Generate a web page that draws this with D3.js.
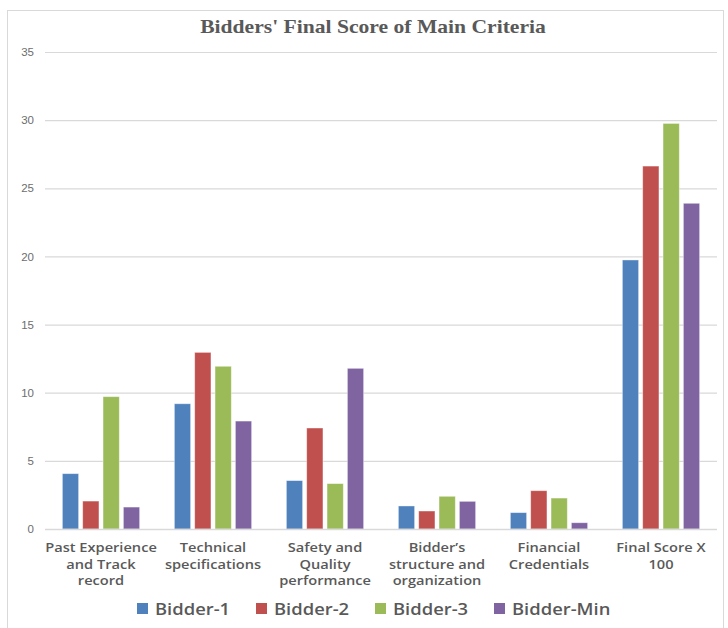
<!DOCTYPE html>
<html>
<head>
<meta charset="utf-8">
<script src="https://cdn.jsdelivr.net/npm/d3@7"></script>
<style>
  html, body { margin: 0; padding: 0; background: #fff; }
  svg { display: block; }
</style>
</head>
<body>
<svg id="chart" width="728" height="628"></svg>
<script>
const categories = [
  ["Past Experience", "and Track", "record"],
  ["Technical", "specifications"],
  ["Safety and", "Quality", "performance"],
  ["Bidder\u2019s", "structure and", "organization"],
  ["Financial", "Credentials"],
  ["Final Score X", "100"]
];
const seriesNames = ["Bidder-1", "Bidder-2", "Bidder-3", "Bidder-Min"];
const bidder1 = [4.06, 9.19, 3.55, 1.69, 1.20, 19.74];
const bidder2 = [2.05, 12.96, 7.41, 1.32, 2.81, 26.63];
const bidder3 = [9.71, 11.94, 3.33, 2.40, 2.27, 29.76];
const bidderMin = [1.61, 7.92, 11.79, 2.03, 0.46, 23.90];
const yTicks = [0, 5, 10, 15, 20, 25, 30, 35];
const colors = ["#4F81BD", "#C0504D", "#9BBB59", "#8064A2"];
const title = "Bidders' Final Score of Main Criteria";

const series = [bidder1, bidder2, bidder3, bidderMin];
const svg = d3.select("#chart");

// frame
svg.append("rect").attr("x", 7.5).attr("y", 10.5).attr("width", 716).attr("height", 640)
  .attr("fill", "none").attr("stroke", "#d9d9d9").attr("stroke-width", 1);

const pLeft = 45, pRight = 717, pTop = 52, pBottom = 529;
const catIdx = categories.map((d, i) => i);
const x0 = d3.scaleBand().domain(catIdx).range([pLeft, pRight]).paddingInner(0.31).paddingOuter(0.155);
const x1 = d3.scaleBand().domain(d3.range(series.length)).range([0, x0.bandwidth()]).paddingInner(0.2);
const y = d3.scaleLinear().domain([0, 35]).range([pBottom, pTop]);

// title (horizontally widened like the reference)
svg.append("g").attr("transform", "translate(373,0) scale(1.2,1)")
  .append("text").attr("x", 0).attr("y", 33).attr("text-anchor", "middle")
  .attr("font-family", "Liberation Serif, Times New Roman, serif").attr("font-weight", "bold")
  .attr("font-size", 18).attr("fill", "#595959").text(title);

// grid
const yAxis = d3.axisLeft(y).tickValues(yTicks).tickSize(-(pRight - pLeft)).tickPadding(11);
const gy = svg.append("g").attr("transform", `translate(${pLeft},0)`).call(yAxis);
gy.select(".domain").remove();
gy.selectAll(".tick line").attr("stroke", "#d9d9d9").attr("stroke-width", 1.2);
gy.selectAll(".tick text").attr("font-family", "Liberation Sans, Arial, sans-serif")
  .attr("font-size", 11.5).attr("fill", "#6d6d6d");

// bars
const groups = svg.append("g").selectAll("g").data(catIdx).join("g")
  .attr("transform", d => `translate(${x0(d)},0)`);
groups.selectAll("rect").data(ci => series.map((s, si) => ({si, v: s[ci]}))).join("rect")
  .attr("x", d => x1(d.si)).attr("width", x1.bandwidth())
  .attr("y", d => y(d.v)).attr("height", d => y(0) - y(d.v))
  .attr("fill", d => colors[d.si]).attr("stroke", "#ffffff").attr("stroke-opacity", 0.5).attr("stroke-width", 0.8);

// x axis line
svg.append("line").attr("x1", pLeft).attr("x2", pRight).attr("y1", pBottom + 0.5).attr("y2", pBottom + 0.5)
  .attr("stroke", "#d9d9d9").attr("stroke-width", 1.5);

// category labels
const xl = svg.append("g");
catIdx.forEach(ci => {
  const cx = x0(ci) + x0.bandwidth() / 2;
  const t = xl.append("g").attr("transform", `translate(${cx},0) scale(1.17,1)`)
    .append("text").attr("text-anchor", "middle")
    .attr("font-family", "Open Sans, sans-serif").attr("font-weight", 600)
    .attr("font-size", 12.5).attr("fill", "#595959");
  categories[ci].forEach((line, li) => {
    t.append("tspan").attr("x", 0).attr("y", 552 + li * 16.6).text(line);
  });
});

// legend
const legendX = [137, 256, 375, 494];
const lg = svg.append("g");
seriesNames.forEach((n, i) => {
  lg.append("rect").attr("x", legendX[i]).attr("y", 603).attr("width", 11).attr("height", 11).attr("fill", colors[i]);
  lg.append("g").attr("transform", `translate(${legendX[i] + 18},0) scale(1.15,1)`)
    .append("text").attr("x", 0).attr("y", 615)
    .attr("font-family", "Open Sans, sans-serif").attr("font-weight", 600)
    .attr("font-size", 16).attr("fill", "#595959").text(n);
});
</script>
</body>
</html>
